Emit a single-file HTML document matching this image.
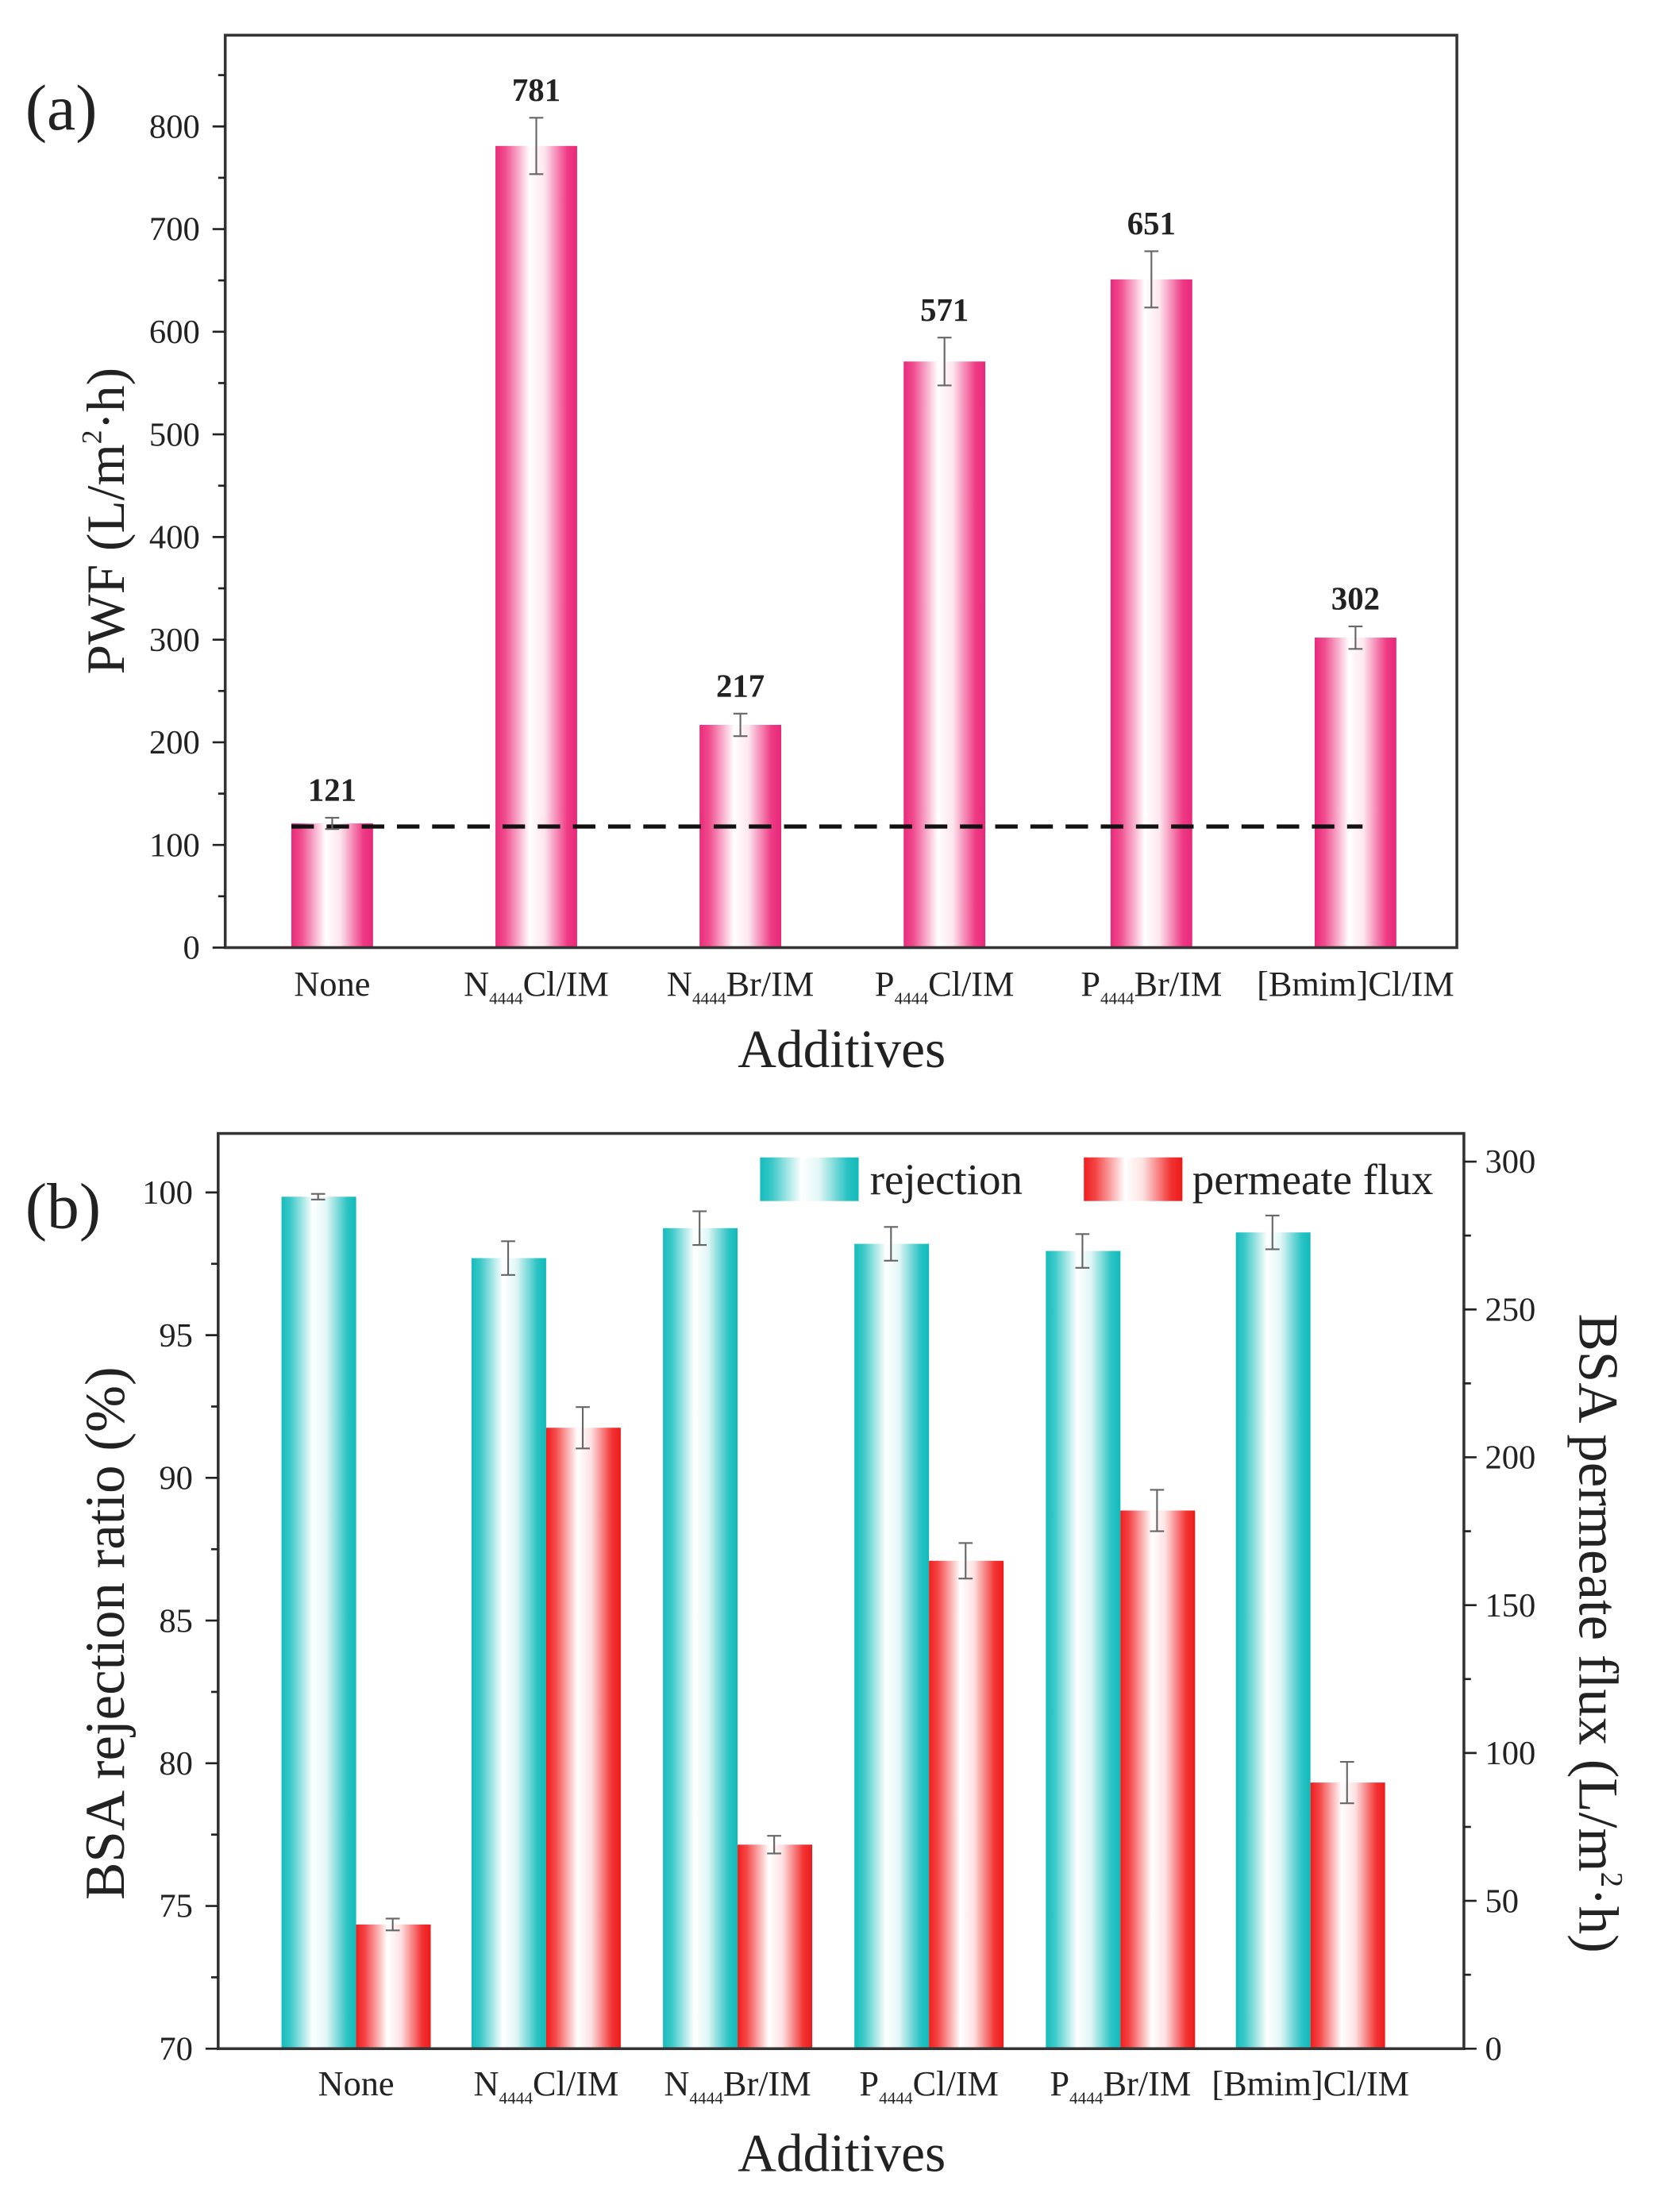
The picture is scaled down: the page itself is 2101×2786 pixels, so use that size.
<!DOCTYPE html>
<html><head><meta charset="utf-8"><style>
html,body{margin:0;padding:0;background:#fff;}
svg{display:block;}
text{font-family:"Liberation Serif",serif;fill:#222;}
</style></head><body>
<svg id="s" width="2101" height="2786" viewBox="0 0 1185 1571" preserveAspectRatio="none" xmlns="http://www.w3.org/2000/svg">
<defs>
<linearGradient id="gp" x1="0" x2="1" y1="0" y2="0">
<stop offset="0" stop-color="#ea2a7a"/><stop offset="0.12" stop-color="#f04c8e"/><stop offset="0.42" stop-color="#ffffff"/><stop offset="0.6" stop-color="#fde6ef"/><stop offset="0.88" stop-color="#ee3a84"/><stop offset="1" stop-color="#e8287a"/></linearGradient>
<linearGradient id="gt" x1="0" x2="1" y1="0" y2="0">
<stop offset="0" stop-color="#14bcbc"/><stop offset="0.12" stop-color="#3cc8c8"/><stop offset="0.42" stop-color="#ffffff"/><stop offset="0.6" stop-color="#e2f6f6"/><stop offset="0.88" stop-color="#2cc3c3"/><stop offset="1" stop-color="#10baba"/></linearGradient>
<linearGradient id="gr" x1="0" x2="1" y1="0" y2="0">
<stop offset="0" stop-color="#f01e1e"/><stop offset="0.12" stop-color="#f44646"/><stop offset="0.42" stop-color="#ffffff"/><stop offset="0.6" stop-color="#fde2e2"/><stop offset="0.88" stop-color="#f23434"/><stop offset="1" stop-color="#ee1a1a"/></linearGradient>
</defs>
<g id="g"></g>
</svg>
<script>
var g=document.getElementById('g'),h='';
function L(x1,y1,x2,y2,w,c,d){h+='<line x1="'+x1+'" y1="'+y1+'" x2="'+x2+'" y2="'+y2+'" stroke="'+(c||'#222')+'" stroke-width="'+(w||1.5)+'"'+(d?' stroke-dasharray="'+d+'"':'')+'/>';}
function T(x,y,s,sz,a,extra){h+='<text x="'+x+'" y="'+y+'" font-size="'+sz+'" text-anchor="'+(a||'middle')+'" '+(extra||'')+'>'+s+'</text>';}
function R(x,y,w,hh,f){h+='<rect x="'+x+'" y="'+y+'" width="'+w+'" height="'+hh+'" fill="url(#'+f+')"/>';}
function E(x,y,e){L(x,y-e,x,y+e,1.2,'#666');L(x-5,y-e,x+5,y-e,1.2,'#666');L(x-5,y+e,x+5,y+e,1.2,'#666');}
// ----- panel a
function ya(v){return 673-v*0.729;}
var cx=[236,381,526,671,818,963],va=[121,781,217,571,651,302],ea=[4,20,8,17,20,8];
for(var i=0;i<6;i++){R(cx[i]-29,ya(va[i]),58,673-ya(va[i]),'gp');}
L(207,587,968,587,3,'#111','16,9');
for(var i=0;i<6;i++){E(cx[i],ya(va[i]),ea[i]);T(cx[i],ya(va[i])-ea[i]-12,va[i],23,'middle','font-weight="bold"');}
h+='<rect x="160" y="25" width="875" height="648" fill="none" stroke="#333" stroke-width="2"/>';
for(var v=0;v<=850;v+=50){var y=ya(v);L(v%100==0?151:155,y,160,y,1.5);if(v%100==0&&v<=800)T(142,y+8,v,24,'end');}
var lab=['None','N<tspan font-size="12" dy="6">4444</tspan><tspan dy="-6">Cl/IM</tspan>','N<tspan font-size="12" dy="6">4444</tspan><tspan dy="-6">Br/IM</tspan>','P<tspan font-size="12" dy="6">4444</tspan><tspan dy="-6">Cl/IM</tspan>','P<tspan font-size="12" dy="6">4444</tspan><tspan dy="-6">Br/IM</tspan>','[Bmim]Cl/IM'];
for(var i=0;i<6;i++)T(cx[i],707,lab[i],25);
T(598,758,'Additives',38);
T(0,0,'PWF (L/m<tspan font-size="20" dy="-16">2</tspan><tspan dy="16">·h)</tspan>',38,'middle','transform="translate(88,370) rotate(-90)"');
T(18,92,'(a)',46,'start');
// ----- panel b
function yl(v){return 1455-(v-70)*20.27;}
function yr(f){return 1455-f*2.1;}
var tx=[226,361,497,633,769,904],rv=[99.85,97.7,98.75,98.2,97.95,98.6],fv=[42,210,69,165,182,90],fe=[2,7,3,6,7,7];
for(var i=0;i<6;i++){R(tx[i]-26,yl(rv[i]),53,1455-yl(rv[i]),'gt');R(tx[i]+27,yr(fv[i]),53,1455-yr(fv[i]),'gr');}
for(var i=0;i<6;i++){E(tx[i],yl(rv[i]),i==0?2:12);E(tx[i]+53,yr(fv[i]),fe[i]*2.1);}
h+='<rect x="155" y="805" width="885" height="650" fill="none" stroke="#333" stroke-width="2"/>';
for(var v=70;v<=101;v+=2.5){var y=yl(v);L(v%5==0?146:150,y,155,y,1.5);if(v%5==0)T(137,y+8,v,24,'end');}
for(var f=0;f<=300;f+=25){var y=yr(f);L(1040,y,f%50==0?1049:1045,y,1.5);if(f%50==0)T(1055,y+8,f,24,'start');}
R(540,822,70,31,'gt');T(618,848,'rejection',31,'start');
R(770,822,70,31,'gr');T(847,848,'permeate flux',31,'start');
for(var i=0;i<6;i++)T(tx[i]+27,1488,lab[i],25);
T(598,1542,'Additives',38);
T(0,0,'BSA rejection ratio (%)',40,'middle','transform="translate(88,1160) rotate(-90)"');
T(0,0,'BSA permeate flux (L/m<tspan font-size="22" dy="-16">2</tspan><tspan dy="16">·h)</tspan>',40,'middle','transform="translate(1122,1160) rotate(90)"');
T(18,872,'(b)',46,'start');
g.innerHTML=h;
</script>
</body></html>
